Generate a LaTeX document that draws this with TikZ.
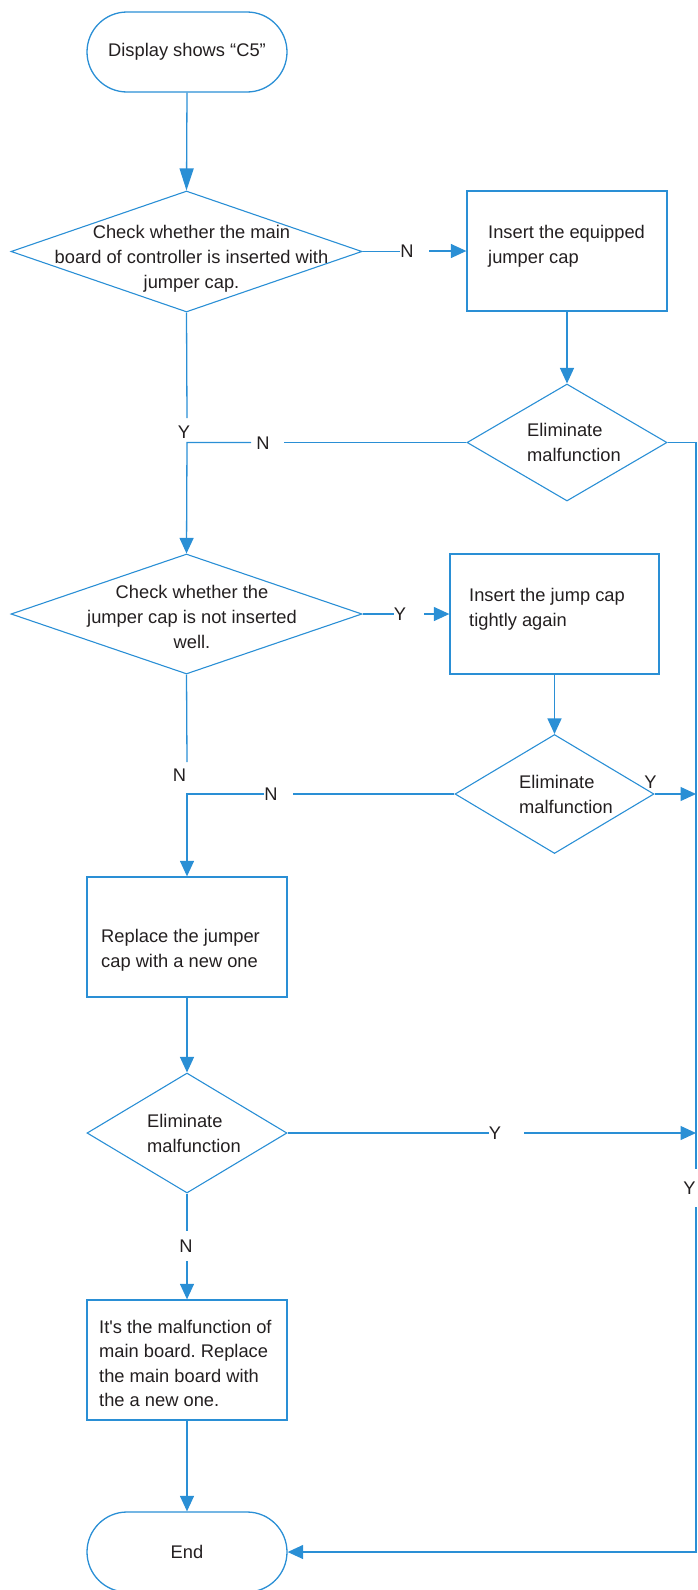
\documentclass[tikz,border=0pt]{standalone}
\usepackage{fontspec}
\setmainfont{Liberation Sans}
\usetikzlibrary{shapes.geometric,arrows.meta}
\definecolor{fc}{HTML}{2A8FD5}
\definecolor{tc}{HTML}{231F20}
\frenchspacing
\begin{document}
\begin{tikzpicture}[x=1pt,y=-1pt,
  every node/.style={text=tc, font=\fontsize{18.3}{25}\selectfont},
  ln/.style={draw=fc, line width=1.3pt},
  arr/.style={ln, -{Triangle[length=15.5pt,width=14pt]}},
  longarr/.style={ln, -{Triangle[length=22pt,width=14pt]}},
  term/.style={draw=fc, line width=1.3pt, rounded corners=40pt, minimum width=200pt, minimum height=80pt, inner sep=0},
  box/.style={draw=fc, line width=1.3pt, minimum width=200pt, minimum height=120pt, inner sep=0},
  dia/.style={draw=fc, line width=1.1pt, diamond, inner sep=0},
  lbl/.style={inner sep=0, anchor=base},
  txt/.style={inner sep=0, align=left, anchor=north west},
  ctxt/.style={inner sep=0, align=center, anchor=north},
]
\useasboundingbox (0,0) rectangle (697,1590);
% shapes
\node[term] (start) at (187,52) {\raisebox{-1pt}{Display shows “C5”}};
\node[dia, minimum width=351pt, minimum height=121pt] (d1) at (186.5,251.5) {};
\node[ctxt] (t1) at (191.5,225) {Check whether the main\\board of controller is inserted with\\jumper cap.};
\node[box] (b1) at (567,251) {};
\node[txt] (tb1) at (488,225) {Insert the equipped\\jumper cap};
\node[dia, minimum width=200pt, minimum height=117pt] (d2) at (567,442.5) {};
\node[txt] (td2) at (527,423) {Eliminate\\malfunction};
\node[dia, minimum width=351pt, minimum height=120pt] (d3) at (186.5,614) {};
\node[ctxt] (t3) at (192,585) {Check whether the\\jumper cap is not inserted\\well.};
\node[box, minimum width=209pt] (b2) at (554.5,614) {};
\node[txt] (tb2) at (469,588) {Insert the jump cap\\tightly again};
\node[dia, minimum width=199pt, minimum height=119pt] (d4) at (554.5,794) {};
\node[txt] (td4) at (519,775) {Eliminate\\malfunction};
\node[box] (b3) at (187,937) {};
\node[txt] (tb3) at (101,929) {Replace the jumper\\cap with a new one};
\node[dia, minimum width=200pt, minimum height=120pt] (d5) at (187,1133) {};
\node[txt] (td5) at (147,1114) {Eliminate\\malfunction};
\node[box] (b4) at (187,1360) {};
\node[txt, font=\fontsize{18.3}{24.4}\selectfont] (tb4) at (99,1320) {It\textquotesingle s the malfunction of\\main board. Replace\\the main board with\\the a new one.};
\node[term] (endn) at (187,1552) {\raisebox{-4pt}{End}};
% labels
\node[lbl] (n1) at (407,257.5) {N};
\node[lbl] (y1) at (184,438.5) {Y};
\node[lbl] (n2) at (263,449.5) {N};
\node[lbl] (y2) at (400,620.5) {Y};
\node[lbl] (n3) at (179.5,781.5) {N};
\node[lbl] (y3) at (650.5,788.5) {Y};
\node[lbl] (n4) at (271,800.5) {N};
\node[lbl] (y4) at (495,1139.5) {Y};
\node[lbl] (n5) at (186,1252.5) {N};
\node[lbl] (y5) at (689.5,1194.5) {Y};
% coordinates
\coordinate (g1) at (187,418);
\coordinate (j1) at (187,442.5);
\coordinate (g2a) at (284,442.5);
\coordinate (g2b) at (251,442.5);
\coordinate (g3) at (187,762);
\coordinate (j2) at (187,794);
\coordinate (g4a) at (293,794);
\coordinate (g4b) at (264,794);
\coordinate (g5a) at (187,1231);
\coordinate (g5b) at (187,1261);
\coordinate (r1) at (696,442.5);
\coordinate (r2) at (696,794);
\coordinate (r3) at (696,1133);
\coordinate (r5) at (696,1169);
\coordinate (r6) at (696,1207);
\coordinate (r4) at (696,1552);
\coordinate (a1) at (429,251);
\coordinate (a2) at (424,614);
\coordinate (a4) at (524,1133);
% connectors
\draw[longarr] (start.south) -- (d1.north);
\draw[ln] (d1.east) -- (n1.west |- d1.east);
\draw[arr] (a1) -- (b1.west);
\draw[arr] (b1.south) -- (d2.north);
\draw[ln] (d1.south) -- (g1);
\draw[ln] (d2.west) -- (g2a);
\draw[arr] (g2b) -- (j1) -- (d3.north);
\draw[ln] (d2.east) -- (r1) -- (r5);
\draw[ln] (d3.east) -- (y2.west |- d3.east);
\draw[arr] (a2) -- (b2.west);
\draw[arr] (b2.south) -- (d4.north);
\draw[ln] (d3.south) -- (g3);
\draw[ln] (d4.west) -- (g4a);
\draw[arr] (g4b) -- (j2) -- (b3.north);
\draw[arr] (d4.east) -- (r2);
\draw[arr] (b3.south) -- (d5.north);
\draw[ln] (d5.east) -- (y4.west |- d5.east);
\draw[arr] (a4) -- (r3);
\draw[ln] (d5.south) -- (g5a);
\draw[arr] (g5b) -- (b4.north);
\draw[arr] (b4.south) -- (endn.north);
\draw[arr] (r6) -- (r4) -- (endn.east);
\end{tikzpicture}
\end{document}
